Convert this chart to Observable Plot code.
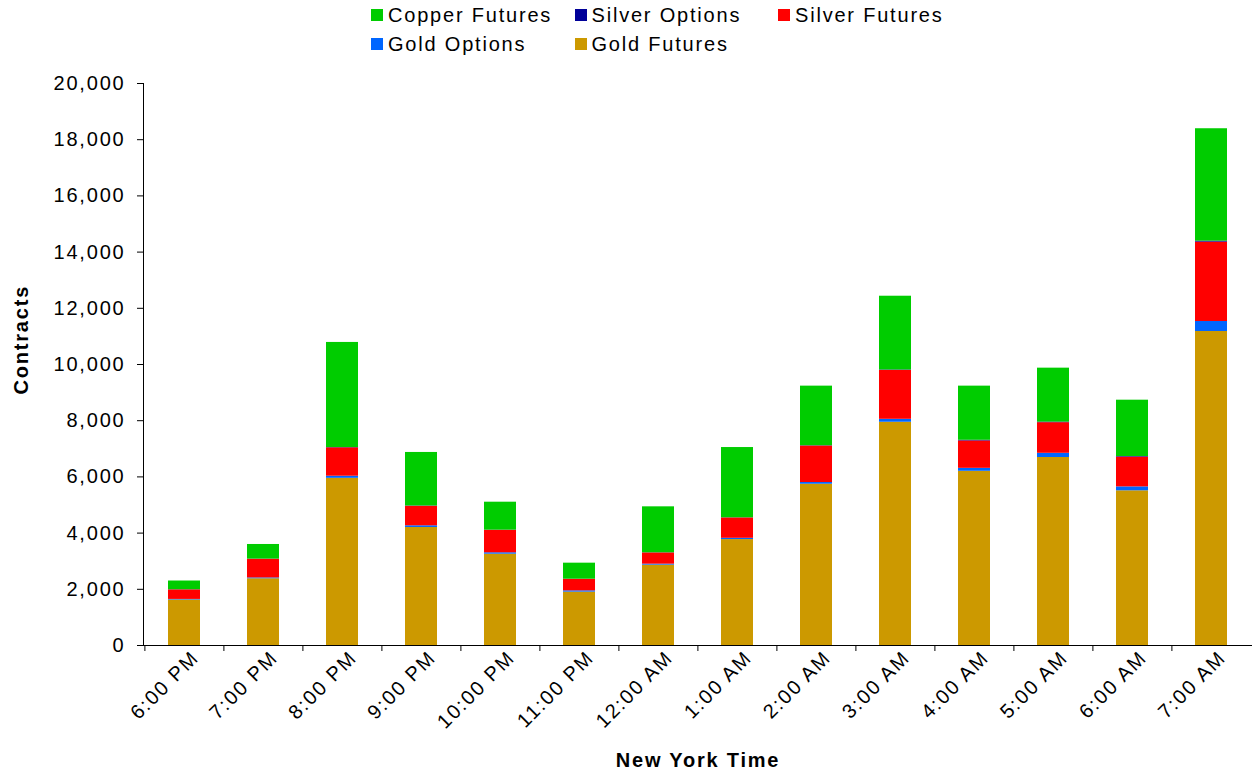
<!DOCTYPE html>
<html><head><meta charset="utf-8">
<script src="https://cdn.jsdelivr.net/npm/d3@7"></script>
<script src="https://cdn.jsdelivr.net/npm/@observablehq/plot@0.6"></script>
<style>
body{margin:0;background:#fff;font-family:"Liberation Sans",Arial,sans-serif;}
#legend{position:relative;height:60px;width:1252px;}
.item{position:absolute;display:flex;align-items:center;font-size:20px;letter-spacing:1.8px;color:#000;white-space:nowrap;line-height:20px;}
.sw{width:12px;height:12px;margin-right:5px;flex:none;}
</style></head><body>
<div id="legend"></div><div id="chart"></div>
<script>
const categories = ["6:00 PM","7:00 PM","8:00 PM","9:00 PM","10:00 PM","11:00 PM","12:00 AM","1:00 AM","2:00 AM","3:00 AM","4:00 AM","5:00 AM","6:00 AM","7:00 AM"];
const goldFutures   = [1620, 2375, 5950, 4200, 3250, 1900, 2860, 3770, 5740, 7945, 6200, 6690, 5505, 11175];
const goldOptions   = [20, 30, 75, 60, 50, 45, 35, 45, 60, 105, 105, 150, 140, 355];
const silverFutures = [340, 665, 1010, 695, 800, 410, 400, 725, 1300, 1740, 975, 1090, 1060, 2825];
const silverOptions = [5, 5, 10, 10, 5, 5, 5, 5, 10, 15, 25, 20, 20, 35];
const copperFutures = [310, 520, 3740, 1905, 995, 570, 1635, 2500, 2120, 2625, 1925, 1920, 2005, 4000];
const seriesNames  = ["Gold Futures","Gold Options","Silver Futures","Silver Options","Copper Futures"];
const seriesValues = [goldFutures, goldOptions, silverFutures, silverOptions, copperFutures];
const seriesColors = ["#CC9900","#0066FF","#FF0000","#000099","#00CC00"];
const yTicks = [0,2000,4000,6000,8000,10000,12000,14000,16000,18000,20000];
const xTitle = "New York Time";
const yTitle = "Contracts";

const rows = [];
seriesNames.forEach((s, i) => categories.forEach((c, j) => rows.push({time: c, series: s, value: seriesValues[i][j]})));

// legend (reversed order, 3 columns)
const legend = document.getElementById("legend");
seriesNames.slice().reverse().forEach((s, k) => {
  const col = k % 3, row = Math.floor(k / 3);
  const it = document.createElement("div");
  it.className = "item";
  it.style.left = (371 + col * 203.5) + "px";
  it.style.top = (5 + row * 29) + "px";
  const sw = document.createElement("span");
  sw.className = "sw";
  sw.style.background = seriesColors[seriesNames.indexOf(s)];
  it.appendChild(sw);
  it.appendChild(document.createTextNode(s));
  legend.appendChild(it);
});

const W = 1252, ML = 143, MR = 0;
const step = (W - ML - MR) / categories.length;

const chart = Plot.plot({
  width: W, height: 716,
  marginTop: 23, marginBottom: 131, marginLeft: ML, marginRight: MR,
  style: {fontFamily: '"Liberation Sans", Arial, sans-serif', fontSize: "20px", letterSpacing: "1.8px", background: "white", color: "black"},
  x: {domain: categories, paddingInner: 0.6, paddingOuter: 0.3},
  y: {domain: [0, 20000]},
  color: {domain: seriesNames, range: seriesColors},
  marks: [
    Plot.barY(rows, {x: "time", y: "value", fill: "series"}),
    Plot.ruleY([0], {stroke: "#000", strokeWidth: 1.2}),
    Plot.frame({anchor: "left", stroke: "#000"}),
    Plot.axisY({ticks: yTicks, tickSize: 6, tickPadding: 12, tickFormat: d3.format(","), label: null}),
    Plot.axisX({tickSize: 6, tickFormat: () => "", dx: -step / 2, label: null}),
    Plot.axisX({tickSize: 0, tickRotate: -45, tickPadding: 9, dx: 11, label: null}),
    Plot.text([xTitle], {frameAnchor: "bottom", dy: 115, fontWeight: "bold", lineAnchor: "middle"}),
    Plot.text([yTitle], {frameAnchor: "left", dx: -122, dy: 30, rotate: -90, fontWeight: "bold", lineAnchor: "middle", style: "letter-spacing:0.8px"})
  ]
});
document.getElementById("chart").appendChild(chart);
</script>
</body></html>
